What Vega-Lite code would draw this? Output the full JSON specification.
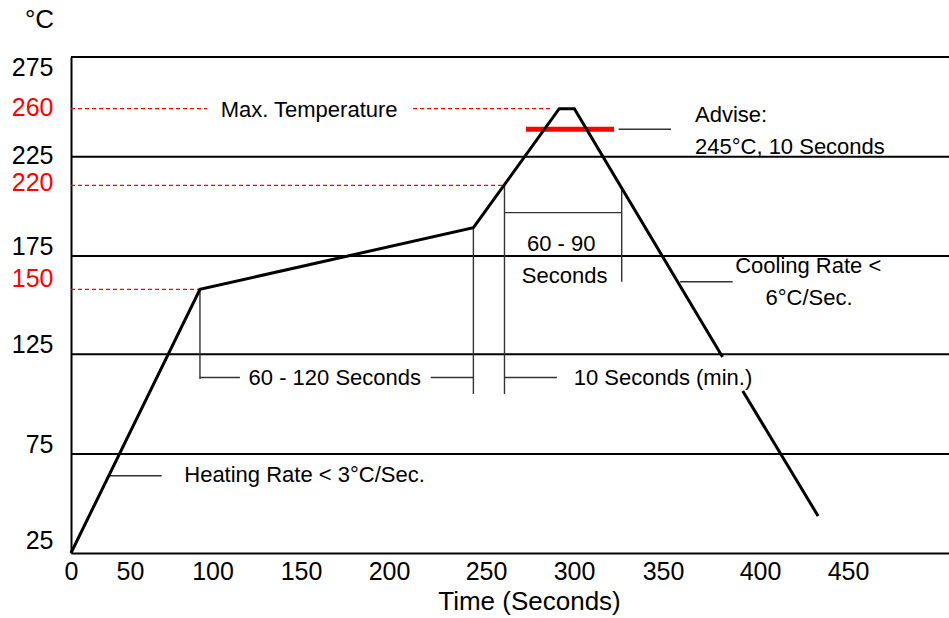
{
  "$schema": "https://vega.github.io/schema/vega-lite/v6.json",
  "width": 878,
  "height": 496,
  "autosize": {"type": "none"},
  "padding": {"left": 71, "top": 57, "right": 0, "bottom": 65},
  "background": "white",
  "config": {"view": {"stroke": null}, "font": "Liberation Sans"},
  "datasets": {
    "grid": [
      {"x": 0, "x2": 500, "y": 75},
      {"x": 0, "x2": 500, "y": 125},
      {"x": 0, "x2": 500, "y": 175},
      {"x": 0, "x2": 500, "y": 225},
      {"x": 0, "x2": 500, "y": 275}
    ],
    "dashed": [
      {"x": 0, "x2": 96.7, "y": 260},
      {"x": 212.4, "x2": 286.4, "y": 260},
      {"x": 0, "x2": 259.1, "y": 220},
      {"x": 0, "x2": 92.4, "y": 150}
    ],
    "thin": [
      {"x": 92.4, "x2": 92.4, "y": 150, "y2": 112.6},
      {"x": 92.4, "x2": 115.5, "y": 113.4, "y2": 113.4},
      {"x": 221.5, "x2": 243.5, "y": 113.4, "y2": 113.4},
      {"x": 243.5, "x2": 243.5, "y": 193, "y2": 105.1},
      {"x": 260.5, "x2": 260.5, "y": 220, "y2": 105.1},
      {"x": 260.5, "x2": 290.3, "y": 113.4, "y2": 113.4},
      {"x": 260.5, "x2": 326.8, "y": 202.6, "y2": 202.6},
      {"x": 326.8, "x2": 326.8, "y": 218.1, "y2": 155.7},
      {"x": 358.8, "x2": 385.9, "y": 155.7, "y2": 155.7},
      {"x": 33, "x2": 69.2, "y": 64, "y2": 64},
      {"x": 325.1, "x2": 354.1, "y": 245, "y2": 245}
    ],
    "advise": [
      {"x": 272.7, "x2": 322.5, "y": 245}
    ],
    "curve": [
      {"seg": "a", "o": 1, "x": 0, "y": 25},
      {"seg": "a", "o": 2, "x": 92.4, "y": 150},
      {"seg": "a", "o": 3, "x": 243.5, "y": 193},
      {"seg": "a", "o": 4, "x": 291.6, "y": 260},
      {"seg": "a", "o": 5, "x": 300.2, "y": 260},
      {"seg": "a", "o": 6, "x": 380.7, "y": 123.6},
      {"seg": "b", "o": 7, "x": 391.1, "y": 106.6},
      {"seg": "b", "o": 8, "x": 433, "y": 43.7}
    ],
    "notes": [
      {"label": "Max. Temperature", "x": 154.6, "y": 253.7},
      {"label": "Heating Rate < 3°C/Sec.", "x": 152.0, "y": 61.0},
      {"label": "60 - 120 Seconds", "x": 169.2, "y": 109.6},
      {"label": "10 Seconds (min.)", "x": 350, "y": 109.6},
      {"label": "60 - 90", "x": 292.7, "y": 178.0},
      {"label": "Seconds", "x": 294.7, "y": 154.6},
      {"label": "Cooling Rate <", "x": 427.4, "y": 162.0},
      {"label": "6°C/Sec.", "x": 427.9, "y": 144.0}
    ],
    "notesLeft": [
      {"label": "Advise:", "x": 366.5, "y": 250.5},
      {"label": "245°C, 10 Seconds", "x": 366.5, "y": 227.0}
    ]
  },
  "encoding": {
    "x": {
      "field": "x",
      "type": "quantitative",
      "scale": {
        "domain": [0, 50, 100, 150, 200, 250, 300, 350, 400, 450, 500],
        "range": [0, 59, 141.5, 230, 318, 415, 503, 592, 689, 777, 878],
        "nice": false,
        "zero": false
      },
      "axis": {
        "title": "Time (Seconds)",
        "values": [0, 50, 100, 150, 200, 250, 300, 350, 400, 450],
        "format": "d",
        "ticks": false,
        "tickSize": 0,
        "grid": false,
        "domainColor": "black",
        "domainWidth": 2,
        "labelFont": "Liberation Sans",
        "labelFontSize": 25,
        "labelColor": "black",
        "labelFlush": false,
        "labelOverlap": false,
        "labelBound": false,
        "labelBaseline": "alphabetic",
        "labelPadding": 26,
        "titleFont": "Liberation Sans",
        "titleFontSize": 26,
        "titleFontWeight": "normal",
        "titleColor": "black",
        "titleX": 458,
        "titleY": 56,
        "titleAlign": "center",
        "titleBaseline": "alphabetic"
      }
    },
    "y": {
      "field": "y",
      "type": "quantitative",
      "scale": {
        "domain": [25, 75, 125, 150, 175, 220, 225, 260, 275],
        "range": [496, 397, 297.3, 232.3, 199, 128.3, 99.7, 51.7, 0],
        "nice": false,
        "zero": false
      },
      "axis": {
        "title": "°C",
        "values": [25, 75, 125, 150, 175, 220, 225, 260, 275],
        "format": "d",
        "ticks": false,
        "tickSize": 0,
        "grid": false,
        "domainColor": "black",
        "domainWidth": 2,
        "labelFont": "Liberation Sans",
        "labelFontSize": 25,
        "labelColor": {
          "condition": {"test": "datum.value == 260 || datum.value == 220 || datum.value == 150", "value": "#ff0000"},
          "value": "black"
        },
        "labelOffset": {
          "condition": [
            {"test": "datum.value == 275", "value": 18},
            {"test": "datum.value == 260 || datum.value == 225", "value": 7},
            {"test": "datum.value == 220", "value": 5},
            {"test": "datum.value == 25", "value": -5},
            {"test": "datum.value == 150", "value": -3}
          ],
          "value": -2
        },
        "labelOverlap": false,
        "labelFlush": false,
        "labelBound": false,
        "labelBaseline": "alphabetic",
        "labelAlign": "right",
        "labelPadding": 18,
        "titleAngle": 0,
        "titleX": -32,
        "titleY": -30,
        "titleAlign": "center",
        "titleBaseline": "alphabetic",
        "titleFont": "Liberation Sans",
        "titleFontSize": 26,
        "titleFontWeight": "normal",
        "titleColor": "black"
      }
    }
  },
  "layer": [
    {
      "data": {"name": "grid"},
      "mark": {"type": "rule", "color": "black", "strokeWidth": 2},
      "encoding": {"x2": {"field": "x2"}}
    },
    {
      "data": {"name": "dashed"},
      "mark": {"type": "rule", "color": "#ff0000", "strokeWidth": 1.2, "strokeDash": [4, 3]},
      "encoding": {"x2": {"field": "x2"}}
    },
    {
      "data": {"name": "thin"},
      "mark": {"type": "rule", "color": "#333333", "strokeWidth": 1.4},
      "encoding": {"x2": {"field": "x2"}, "y2": {"field": "y2"}}
    },
    {
      "data": {"name": "advise"},
      "mark": {"type": "rule", "color": "#ff0000", "strokeWidth": 5},
      "encoding": {"x2": {"field": "x2"}}
    },
    {
      "data": {"name": "curve"},
      "mark": {"type": "line", "color": "black", "strokeWidth": 3},
      "encoding": {"detail": {"field": "seg"}, "order": {"field": "o"}}
    },
    {
      "data": {"name": "notes"},
      "mark": {"type": "text", "align": "center", "baseline": "alphabetic", "font": "Liberation Sans", "fontSize": 22, "color": "black"},
      "encoding": {"text": {"field": "label"}}
    },
    {
      "data": {"name": "notesLeft"},
      "mark": {"type": "text", "align": "left", "baseline": "alphabetic", "font": "Liberation Sans", "fontSize": 22, "color": "black"},
      "encoding": {"text": {"field": "label"}}
    }
  ]
}
